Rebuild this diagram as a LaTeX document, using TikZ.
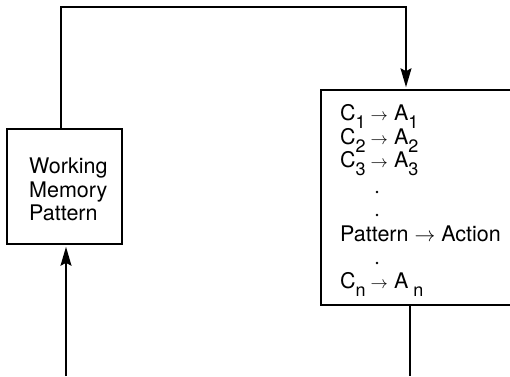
\documentclass[tikz,border=0pt]{standalone}
\usepackage{fontspec}
\setmainfont{TeX Gyre Heros}
\usetikzlibrary{arrows.meta}
\newcommand\lsub[1]{\raisebox{-8.5pt}{\fontsize{18pt}{18pt}\selectfont #1}}
\newcommand\sarr{\hspace{5pt}{\fontsize{18pt}{18pt}\selectfont$\rightarrow$}\hspace{6pt}}
\begin{document}
\begin{tikzpicture}[x=1pt,y=-1pt,
  boxst/.style={draw,line width=1.6pt,inner sep=0pt},
  txt/.style={inner sep=0pt,font=\fontsize{21.5pt}{23.5pt}\selectfont},
  conn/.style={line width=1.5pt},
  arr/.style={conn,-{Stealth[length=19pt,width=11pt,inset=3pt]}}]
\useasboundingbox (0,0) rectangle (510,376);
\node[boxst,minimum width=115pt,minimum height=115pt] (wm) at (64.5,186.5) {};
\node[boxst,minimum width=200pt,minimum height=215pt] (rb) at (421,197.5) {};
\node[txt,anchor=north west,align=left] (wmt) at (29,158) {Working\\Memory\\Pattern};
\node[txt,anchor=base west] (r1) at (340,120) {C\lsub{1}\sarr A\lsub{1}};
\node[txt,anchor=base west] (r2) at (340,144) {C\lsub{2}\sarr A\lsub{2}};
\node[txt,anchor=base west] (r3) at (340,167) {C\lsub{3}\sarr A\lsub{3}};
\node[txt,anchor=base west] (r4) at (340,241) {Pattern $\rightarrow$ Action};
\node[txt,anchor=base west] (r5) at (340,288) {C\lsub{n}\sarr A\hspace{5pt}\lsub{n}};
\fill (377,192) circle (1.4pt);
\fill (377,215) circle (1.4pt);
\fill (377,263) circle (1.4pt);
\coordinate (topL) at (61,7);
\coordinate (topR) at (406,7);
\coordinate (botL) at (66,376);
\coordinate (botR) at (410,376);
\draw[arr,shorten >=2pt] (wm.north -| topL) -- (topL) -- (topR) -- (rb.north -| topR);
\draw[conn] (rb.south -| botR) -- (botR);
\draw[arr,shorten >=2pt] (botL) -- (wm.south -| botL);
\end{tikzpicture}
\end{document}
